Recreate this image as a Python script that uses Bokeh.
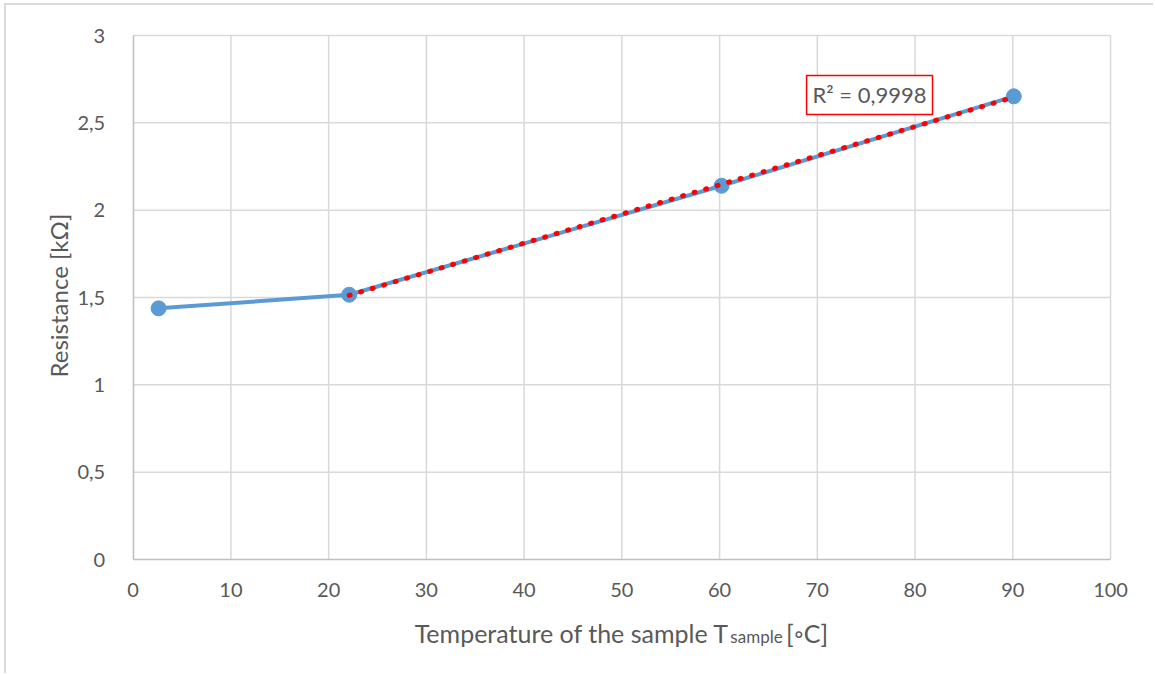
import numpy as np
from bokeh.plotting import figure
from bokeh.models import FixedTicker, Label, Range1d
from bokeh.embed import file_html
from bokeh.resources import INLINE

# ---- data ----
temperature = [2.6, 22.1, 60.2, 90.1]
resistance = [1.438, 1.516, 2.140, 2.652]
x_ticks = [0, 10, 20, 30, 40, 50, 60, 70, 80, 90, 100]
y_ticks = [0, 0.5, 1, 1.5, 2, 2.5, 3]
y_tick_labels = ["0", "0,5", "1", "1,5", "2", "2,5", "3"]
r2_text = "R² = 0,9998"
x_title_main = "Temperature of the sample T"
x_title_sub = "sample"
x_title_end = "[◦C]"
y_title = "Resistance [kΩ]"

# linear trendline through the last three points
fit_x = np.array(temperature[1:])
fit_y = np.array(resistance[1:])
slope, intercept = np.polyfit(fit_x, fit_y, 1)
trend_x = [fit_x[0], fit_x[-1]]
trend_y = [slope * v + intercept for v in trend_x]

FONT = "Lato"
TXT = "#595959"
GRID = "#d9d9d9"

x0, x1 = x_ticks[0], x_ticks[-1]
y0, y1 = y_ticks[0], y_ticks[-1]

# the frame covers the whole canvas, so that axes, tick labels and titles are drawn inside it
p = figure(width=1149, height=670, x_range=Range1d(-12.96, 104.6), y_range=Range1d(-0.664, 3.172),
           output_backend="svg", toolbar_location=None,
           min_border_left=0, min_border_right=0, min_border_top=0, min_border_bottom=0)
p.styles = {"margin-left": "4px", "margin-top": "3px",
            "border-left": f"2px solid {GRID}", "border-top": f"2px solid {GRID}"}
p.outline_line_color = None
p.background_fill_color = "white"
p.border_fill_color = "white"

p.xaxis.ticker = FixedTicker(ticks=x_ticks)
p.yaxis.ticker = FixedTicker(ticks=y_ticks)
p.xaxis.fixed_location = y0
p.yaxis.fixed_location = x0
p.xaxis.bounds = (x0, x1)
p.yaxis.bounds = (y0, y1)
p.yaxis.major_label_overrides = {t: s for t, s in zip(y_ticks, y_tick_labels)}
for ax in (p.xaxis, p.yaxis):
    ax.major_tick_line_color = None
    ax.minor_tick_line_color = None
    ax.axis_line_color = "#bfbfbf"
    ax.axis_line_width = 1.5
    ax.major_label_text_font = FONT
    ax.major_label_text_font_size = "20px"
    ax.major_label_text_color = TXT
p.xaxis.major_label_standoff = 17
p.yaxis.major_label_standoff = 22

p.xgrid.visible = False
p.ygrid.visible = False
# grid lines limited to the value ranges
p.segment(x0=x_ticks[1:], y0=[y0] * (len(x_ticks) - 1),
          x1=x_ticks[1:], y1=[y1] * (len(x_ticks) - 1),
          line_color=GRID, line_width=1.5)
p.segment(x0=[x0] * (len(y_ticks) - 1), y0=y_ticks[1:],
          x1=[x1] * (len(y_ticks) - 1), y1=y_ticks[1:],
          line_color=GRID, line_width=1.5)

p.line(temperature, resistance, line_color="#5b9bd5", line_width=4)
p.scatter(temperature, resistance, size=15, fill_color="#5b9bd5", line_color="#5b9bd5")
p.line(trend_x, trend_y, line_color="#ff0000", line_width=5, line_dash="1 11", line_cap="round")

p.add_layout(Label(x=68.9, y=2.548, text=r2_text, text_font=FONT, text_font_size="22px",
                   text_color=TXT, border_line_color="#ff0000", border_line_width=1.5,
                   background_fill_color="white", padding=6))

# y-axis title
p.add_layout(Label(x=-7.64, y=1.511, text=y_title, angle=np.pi / 2,
                   text_font=FONT, text_font_size="24px", text_color=TXT,
                   text_align="center", text_baseline="middle"))

# x-axis title with subscript
p.add_layout(Label(x=28.8, y=-0.42, text=x_title_main,
                   text_font=FONT, text_font_size="25px", text_color=TXT, text_baseline="alphabetic"))
p.add_layout(Label(x=61.1, y=-0.443, text=x_title_sub,
                   text_font=FONT, text_font_size="17px", text_color=TXT, text_baseline="alphabetic"))
p.add_layout(Label(x=66.8, y=-0.42, text=x_title_end,
                   text_font=FONT, text_font_size="25px", text_color=TXT, text_baseline="alphabetic"))

open("out.html", "w").write(file_html(p, INLINE))
